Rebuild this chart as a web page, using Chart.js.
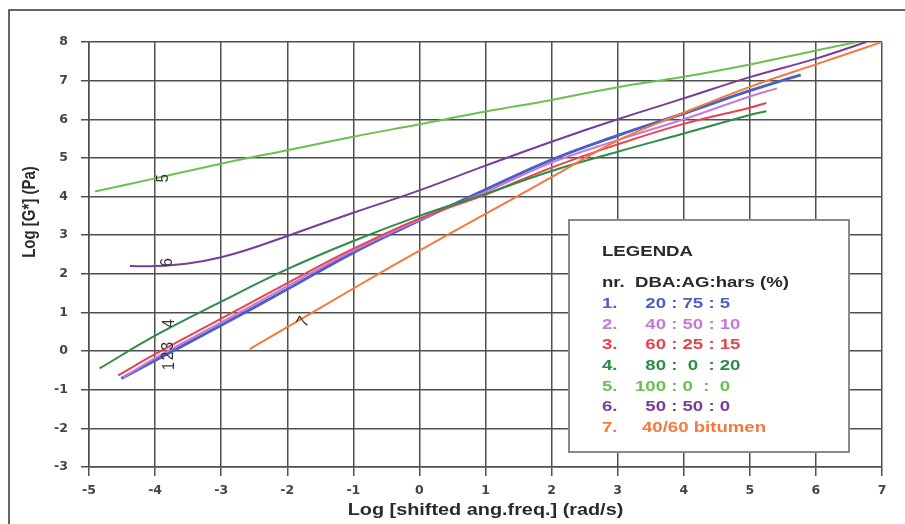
<!DOCTYPE html>
<html>
<head>
<meta charset="utf-8">
<script src="https://cdn.jsdelivr.net/npm/chart.js@4.4.1/dist/chart.umd.min.js"></script>
<style>
  html, body { margin: 0; padding: 0; background: #fff; }
  canvas { display: block; }
</style>
</head>
<body>
<canvas id="chart" width="905" height="524"></canvas>
<script>
"use strict";

// tick labels
const xTickValues = [-5, -4, -3, -2, -1, 0, 1, 2, 3, 4, 5, 6, 7];
const yTickValues = [-3, -2, -1, 0, 1, 2, 3, 4, 5, 6, 7, 8];

// series (x = log shifted ang.freq., y = log G*)
const x1 = [-4.51, -4, -3, -2, -1, 0, 1, 2, 3, 4, 5, 5.77];
const y1 = [-0.71, -0.24, 0.67, 1.6, 2.55, 3.38, 4.18, 4.95, 5.58, 6.15, 6.74, 7.15];

const x2 = [-4.48, -4, -3, -2, -1, 0, 1, 2, 3, 4, 5, 5.41];
const y2 = [-0.68, -0.18, 0.74, 1.68, 2.6, 3.4, 4.12, 4.88, 5.46, 6.0, 6.59, 6.8];

const x3 = [-4.56, -4, -3, -2, -1, 0, 1, 2, 3, 4, 5, 5.25];
const y3 = [-0.63, -0.08, 0.84, 1.76, 2.65, 3.43, 4.05, 4.75, 5.35, 5.88, 6.3, 6.42];

const x4 = [-4.84, -4, -3, -2, -1, 0, 1, 2, 3, 4, 5, 5.25];
const y4 = [-0.45, 0.4, 1.28, 2.12, 2.85, 3.5, 4.07, 4.66, 5.16, 5.63, 6.11, 6.21];

const x5 = [-4.91, -4, -3, -2, -1, 0, 1, 2, 3, 4, 5, 6, 6.62];
const y5 = [4.13, 4.47, 4.85, 5.2, 5.55, 5.87, 6.2, 6.5, 6.83, 7.1, 7.42, 7.78, 8.0];

const x6 = [-4.38, -4, -3.5, -3, -2.5, -2, -1, 0, 1, 2, 3, 4, 5, 6, 6.76];
const y6 = [2.2, 2.2, 2.27, 2.43, 2.68, 2.98, 3.58, 4.16, 4.8, 5.42, 6.0, 6.54, 7.09, 7.57, 8.0];

const x7 = [-2.57, -2, -1, 0, 1, 2, 3, 4, 5, 6, 7];
const y7 = [0.05, 0.62, 1.62, 2.6, 3.55, 4.5, 5.45, 6.17, 6.84, 7.42, 8.0];

const legendNums = ["1.", "2.", "3.", "4.", "5.", "6.", "7."];
const legendTexts = ["20 : 75 : 5", "40 : 50 : 10", "60 : 25 : 15", "80 :  0  : 20",
                     "100 : 0  :  0", "50 : 50 : 0", "40/60 bitumen"];
const seriesColors = ["#4b5fc4", "#c57ad8", "#e8434f", "#2d8c45", "#6cc04e", "#7a3c99", "#f47a3c"];

// small numbers written next to the curves (text, data x, data y, rotation)
const curveLabels = [
    ["5", -3.88, 4.47, -90],
    ["6", -3.81, 2.3, -90],
    ["1", -3.78, -0.39, -90],
    ["2", -3.8, -0.13, -90],
    ["3", -3.8, 0.13, -90],
    ["4", -3.78, 0.72, -90],
    ["7", -1.75, 0.75, -60],
];

const GRID = "#4f4f4f";
const TEXT = "#2a2a2a";
const SANS = "'Liberation Sans', Arial, sans-serif";
const STRETCH = 1.24;

function pts(xs, ys) {
    return xs.map((x, i) => ({x: x, y: ys[i]}));
}

const allX = [x1, x2, x3, x4, x5, x6, x7];
const allY = [y1, y2, y3, y4, y5, y6, y7];

const datasets = allX.map((xs, i) => ({
    data: pts(xs, allY[i]),
    borderColor: seriesColors[i],
    borderWidth: i === 0 ? 3 : 2,
    pointRadius: 0,
    tension: 0.4,
    order: 7 - i,
}));

function wideText(ctx, text, x, y, align) {
    ctx.save();
    ctx.translate(x, y);
    ctx.scale(STRETCH, 1);
    ctx.textAlign = align;
    ctx.fillText(text, 0, 0);
    ctx.restore();
}

const decorations = {
    id: "decorations",
    beforeDraw(chart) {
        const ctx = chart.ctx;
        ctx.save();
        ctx.fillStyle = "#fff";
        ctx.fillRect(0, 0, chart.width, chart.height);
        ctx.strokeStyle = "#333";
        ctx.lineWidth = 1.5;
        ctx.beginPath();
        ctx.moveTo(9, chart.height + 5);
        ctx.lineTo(9, 10);
        ctx.lineTo(chart.width + 5, 10);
        ctx.stroke();
        ctx.restore();
    },
    afterDraw(chart) {
        const ctx = chart.ctx;
        const {x, y} = chart.scales;
        const area = chart.chartArea;
        ctx.save();
        ctx.textBaseline = "middle";
        ctx.fillStyle = TEXT;

        // axis titles
        ctx.font = "bold 16px " + SANS;
        wideText(ctx, "Log [shifted ang.freq.] (rad/s)", (area.left + area.right) / 2, 511, "center");
        ctx.save();
        ctx.translate(30, 212);
        ctx.rotate(-Math.PI / 2);
        ctx.scale(1, STRETCH);
        ctx.font = "bold 15px " + SANS;
        ctx.textAlign = "center";
        ctx.fillText("Log [G*] (Pa)", 0, 0);
        ctx.restore();

        // curve numbers
        ctx.font = "15px " + SANS;
        ctx.fillStyle = "#333";
        curveLabels.forEach(([t, lx, ly, rot]) => {
            ctx.save();
            ctx.translate(x.getPixelForValue(lx), y.getPixelForValue(ly));
            ctx.rotate(rot * Math.PI / 180);
            ctx.scale(1, 1.15);
            ctx.textAlign = "center";
            ctx.fillText(t, 0, 0);
            ctx.restore();
        });

        // legend box
        ctx.fillStyle = "#fff";
        ctx.fillRect(569, 220, 280, 232);
        ctx.strokeStyle = "#8a8a8a";
        ctx.lineWidth = 2;
        ctx.strokeRect(569, 220, 280, 232);

        ctx.font = "bold 15px " + SANS;
        ctx.fillStyle = TEXT;
        wideText(ctx, "LEGENDA", 602, 252, "left");
        wideText(ctx, "nr.  DBA:AG:hars (%)", 602, 283, "left");
        legendTexts.forEach((t, i) => {
            const ly = 304 + i * 20.6;
            ctx.fillStyle = seriesColors[i];
            wideText(ctx, legendNums[i], 602, ly, "left");
            const k = t.indexOf(":");
            if (k < 0) {
                wideText(ctx, t, 642, ly, "left");
            } else {
                wideText(ctx, t.slice(0, k).trim(), 666, ly, "right");
                wideText(ctx, " " + t.slice(k), 666, ly, "left");
            }
        });
        ctx.restore();
    },
};

const tickFont = {family: "'DejaVu Sans', sans-serif", size: 12.5, weight: "bold"};

new Chart(document.getElementById("chart"), {
    type: "line",
    data: {datasets: datasets},
    options: {
        responsive: false,
        animation: false,
        layout: {padding: {top: 42, right: 23, left: 0, bottom: 0}},
        plugins: {legend: {display: false}, tooltip: {enabled: false}},
        scales: {
            x: {
                type: "linear",
                min: -5,
                max: 7,
                afterBuildTicks: (s) => { s.ticks = xTickValues.map((v) => ({value: v})); },
                afterFit: (s) => { s.height = 57; },
                ticks: {color: "#444", font: tickFont, padding: 7, maxRotation: 0},
                grid: {color: GRID, lineWidth: 1.5, tickLength: 9, tickColor: GRID},
                border: {color: GRID, width: 1.5},
            },
            y: {
                type: "linear",
                min: -3,
                max: 8,
                afterBuildTicks: (s) => { s.ticks = yTickValues.map((v) => ({value: v})); },
                afterFit: (s) => { s.width = 89; },
                ticks: {color: "#444", font: tickFont, padding: 13},
                grid: {color: GRID, lineWidth: 1.5, tickLength: 8, tickColor: GRID},
                border: {color: GRID, width: 1.5},
            },
        },
    },
    plugins: [decorations],
});
</script>
</body>
</html>
